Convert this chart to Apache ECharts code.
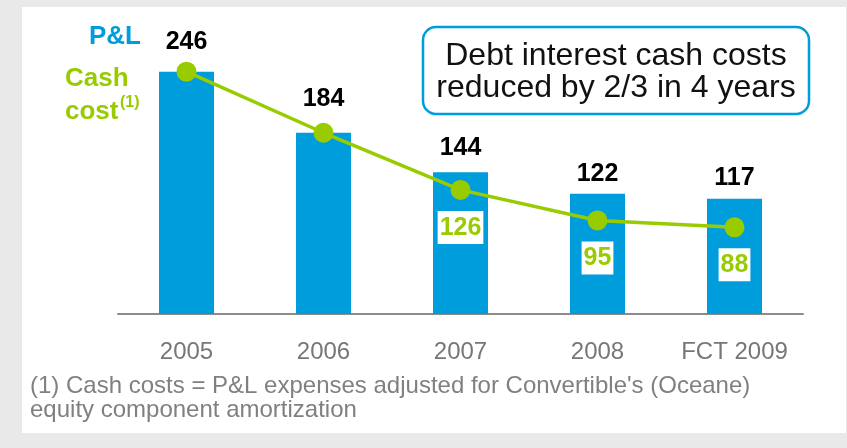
<!DOCTYPE html>
<html>
<head>
<meta charset="utf-8">
<script src="https://cdn.jsdelivr.net/npm/echarts@6/dist/echarts.min.js"></script>
<style>
  html, body { margin: 0; padding: 0; background: #e9e9e9; }
  #chart { width: 847px; height: 448px; }
</style>
</head>
<body>
<div id="chart"></div>
<script>
// Debt interest: P&L expense vs cash cost
const years = ['2005', '2006', '2007', '2008', 'FCT 2009'];
const pnlValues = [246, 184, 144, 122, 117];
const cashValues = [246, 184, 126, 95, 88];
const cashLabelShown = [false, false, true, true, true];
const pnlLabelGap = [18, 22, 12, 8, 9];

const BLUE = '#009ddc';
const GREEN = '#99cc00';
const FONT = '"Liberation Sans", Arial, sans-serif';

const chart = echarts.init(document.getElementById('chart'), null, { renderer: 'canvas' });

chart.setOption({
  backgroundColor: '#e9e9e9',
  animation: false,
  grid: { left: 118, right: 44, top: 18.5, bottom: 134 },
  xAxis: {
    type: 'category',
    data: years,
    axisLine: { lineStyle: { color: '#8c8c8c', width: 2 } },
    axisTick: { show: false },
    axisLabel: { interval: 0, color: '#777777', fontSize: 24, fontFamily: FONT, margin: 26, lineHeight: 24 }
  },
  yAxis: {
    type: 'value', min: 0, max: 300,
    show: false, splitLine: { show: false }
  },
  graphic: [
    { type: 'rect', z: -10, shape: { x: 22, y: 7, width: 824, height: 426 }, style: { fill: '#ffffff' } },
    { type: 'text', left: 89, top: 24, style: { text: 'P&L', fill: BLUE, font: 'bold 26px ' + FONT } },
    { type: 'text', left: 65, top: 66, style: { text: 'Cash', fill: GREEN, font: 'bold 26px ' + FONT } },
    { type: 'text', left: 65, top: 99, style: { text: 'cost', fill: GREEN, font: 'bold 26px ' + FONT } },
    { type: 'text', left: 120, top: 95, style: { text: '(1)', fill: GREEN, font: 'bold 16px ' + FONT } },
    {
      type: 'rect', shape: { x: 423, y: 27, width: 386, height: 87, r: 13 },
      style: { fill: '#ffffff', stroke: BLUE, lineWidth: 2.5 }
    },
    {
      type: 'text', x: 616, y: 72,
      style: {
        text: 'Debt interest cash costs\nreduced by 2/3 in 4 years',
        fill: '#111111', font: '32px ' + FONT, lineHeight: 32,
        textAlign: 'center', textVerticalAlign: 'middle'
      }
    },
    {
      type: 'text', left: 30, top: 374,
      style: {
        text: "(1) Cash costs = P&L expenses adjusted for Convertible's (Oceane)\nequity component amortization",
        fill: '#808080', font: '24px ' + FONT, lineHeight: 24
      }
    }
  ],
  series: [
    {
      type: 'bar',
      data: pnlValues.map((v, i) => ({
        value: v,
        label: { distance: pnlLabelGap[i] }
      })),
      barWidth: 55,
      itemStyle: { color: BLUE },
      label: {
        show: true, position: 'top', color: '#000000',
        fontSize: 25, fontWeight: 'bold', fontFamily: FONT, lineHeight: 24
      }
    },
    {
      type: 'line',
      data: cashValues.map((v, i) => ({
        value: v,
        label: { show: cashLabelShown[i] }
      })),
      symbol: 'circle', symbolSize: 20,
      lineStyle: { color: GREEN, width: 3.5 },
      itemStyle: { color: GREEN },
      label: {
        position: 'bottom', distance: 11,
        color: GREEN, fontSize: 25, fontWeight: 'bold', fontFamily: FONT, lineHeight: 24,
        backgroundColor: '#ffffff', padding: [5, 2, 4, 2]
      },
      z: 3
    }
  ]
});
</script>
</body>
</html>
